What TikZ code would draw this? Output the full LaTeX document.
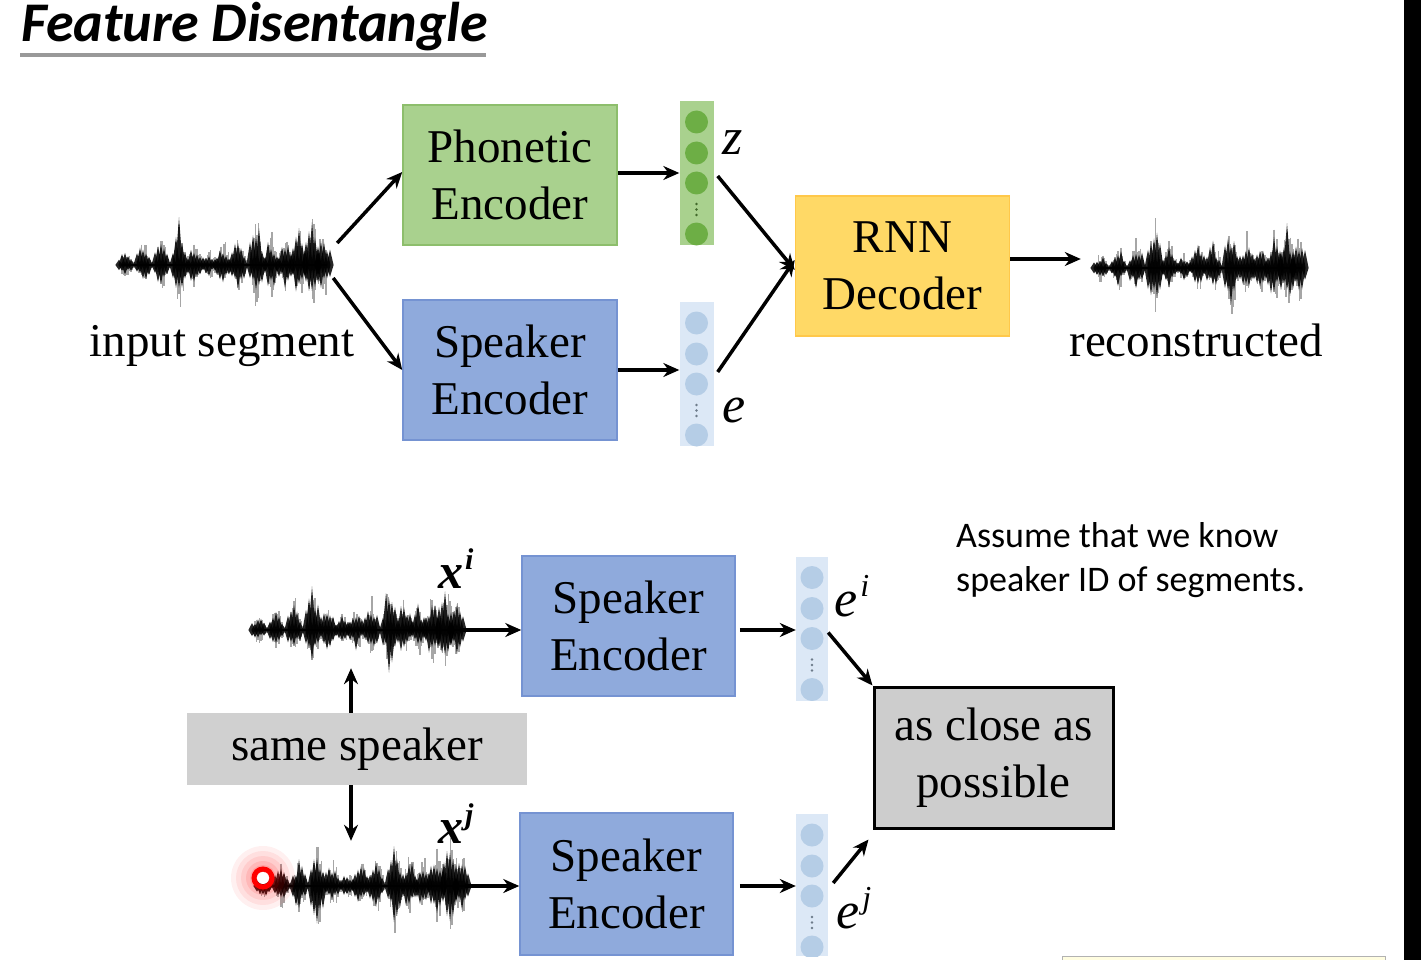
\documentclass[tikz,border=0pt]{standalone}
\usepackage{fontspec}
\setmainfont{Liberation Serif}
\newfontfamily\calfont{Carlito}
\usetikzlibrary{arrows.meta,calc}
\definecolor{phonfill}{HTML}{A9D18E}
\definecolor{phondraw}{HTML}{8DBE6C}
\definecolor{spkfill}{HTML}{8FAADC}
\definecolor{spkdraw}{HTML}{7593D2}
\definecolor{rnnfill}{HTML}{FFD966}
\definecolor{rnndraw}{HTML}{FFC84A}
\definecolor{gcolfill}{HTML}{A9D18E}
\definecolor{gcolcirc}{HTML}{6DAE45}
\definecolor{bcolfill}{HTML}{DCE8F6}
\definecolor{bcolcirc}{HTML}{B5CDE6}
\definecolor{samefill}{HTML}{D0D0D0}
\definecolor{closefill}{HTML}{CDCDCD}
\newcommand\wavef[3]{%
  \pgfmathsetseed{#3}%
  \foreach \k in {0,...,136} {%
    \pgfmathsetmacro\xx{#1+\k*1.5}%
    \pgfmathsetmacro\ee{env(\k*1.5)}%
    \pgfmathsetmacro\hu{2+\ee*(0.3+0.7*rnd)*54}%
    \pgfmathsetmacro\hd{2+\ee*(0.3+0.7*rnd)*48}%
    \draw[line width=1.5pt, black, opacity=0.35] (\xx,{#2-\hu}) -- (\xx,{#2+\hd});
  }%
  \foreach \c/\a in {4/0.3,22/0.5,40/0.6,58/1.0,73/0.55,88/0.3,102/0.5,117/0.6,135/1.0,150/0.65,164/0.55,178/0.8,191/0.95,203/0.7} {%
    \foreach \o in {-7,-4,-1,2,5} {%
      \pgfmathsetmacro\hu{\a*(22+26*rnd)*(1-abs(\o+1)/13)}%
      \pgfmathsetmacro\hd{\a*(19+24*rnd)*(1-abs(\o+1)/13)}%
      \fill[black, opacity=0.85] ({#1+\c+\o-3.6},#2) -- ({#1+\c+\o},{#2-\hu}) -- ({#1+\c+\o+3.6},#2)
        -- ({#1+\c+\o},{#2+\hd}) -- cycle;
    }%
  }%
  \draw[line width=2.2pt] (#1,#2) -- ({#1+205},#2);
}
\begin{document}
\begin{tikzpicture}[x=1pt,y=-1pt,
  declare function={
    bp(\t,\c)=max(0,1-abs(\t-\c)/8.5);
    env(\t)=min(1,0.3*bp(\t,4)+0.5*bp(\t,22)+0.6*bp(\t,40)+1.0*bp(\t,58)+0.55*bp(\t,73)
      +0.3*bp(\t,88)+0.5*bp(\t,102)+0.6*bp(\t,117)+1.0*bp(\t,135)+0.65*bp(\t,150)
      +0.55*bp(\t,164)+0.8*bp(\t,178)+0.95*bp(\t,191)+0.7*bp(\t,203));
  },
  box/.style={draw, line width=1.5pt, minimum width=214pt, minimum height=140pt,
    inner sep=0pt, align=center, font=\fontsize{47}{57}\selectfont},
  phonbox/.style={box, fill=phonfill, draw=phondraw},
  spkbox/.style={box, fill=spkfill, draw=spkdraw},
  rnnbox/.style={box, fill=rnnfill, draw=rnndraw},
  arr/.style={line width=3.5pt, -{Stealth[length=16pt,width=14pt]}},
  wavebox/.style={minimum width=205pt, minimum height=#1, inner sep=0pt},
  vcol/.style 2 args={fill=#1, minimum width=34pt, minimum height=144pt, inner sep=0pt,
    path picture={
      \foreach \dy in {21,52,82,133}
        \fill[#2] ([yshift=-\dy pt]path picture bounding box.north) circle (11.5pt);
      \foreach \dy in {103,108.5,114}
        \fill[#2!60!black] ([yshift=-\dy pt]path picture bounding box.north) circle (1.4pt);
    }},
  lab/.style={inner sep=0pt, font=\fontsize{47}{57}\selectfont},
  vlab/.style={inner sep=0pt, anchor=base west, font=\fontsize{52}{60}\selectfont\itshape},
  xlab/.style={inner sep=0pt, anchor=base west, font=\fontsize{50}{60}\selectfont\bfseries\itshape},
]
\useasboundingbox (0,0) rectangle (1421,960);
\fill[white] (0,0) rectangle (1421,960);

% title
\node[anchor=base west, inner sep=0pt, font=\calfont\bfseries\itshape\fontsize{56}{60}\selectfont] (title) at (21,42) {Feature Disentangle};
\draw[gray!80, line width=4pt] (20,55) -- (486,55);

% ---------- top ----------
\node[wavebox=100pt] (win) at (224.5,265) {};
\wavef{122}{265}{11}
\node[lab, anchor=base] (inlab) at (222,356) {input segment};

\node[phonbox] (phon) at (510,175) {Phonetic\\Encoder};
\node[spkbox] (spk1) at (510,370) {Speaker\\Encoder};

\node[vcol={gcolfill}{gcolcirc}] (zcol) at (696.5,173) {};
\node[vcol={bcolfill}{bcolcirc}] (ecol) at (696.5,374) {};
\node[vlab] (zl) at (722,155) {z};
\node[vlab] (el) at (722,422) {e};

\node[rnnbox] (rnn) at (902.5,266) {RNN\\Decoder};

\node[wavebox=100pt] (wout) at (1199.5,268) {};
\wavef{1097}{268}{23}
\node[lab, anchor=base] (outlab) at (1196,356) {reconstructed};

\draw[arr] ([shift={(10,-22)}]win.east) -- ([yshift=3]phon.west);
\draw[arr] ([shift={(6,13)}]win.east) -- (spk1.west);
\draw[arr] (phon.east |- zcol.west) -- (zcol.west);
\draw[arr] (spk1.east) -- (spk1.east -| ecol.west);
\draw[arr] ([shift={(4,3)}]zcol.east) -- ([yshift=-4]rnn.west);
\draw[arr] ([shift={(4,-2)}]ecol.east) -- ([yshift=6]rnn.west);
\draw[arr] ([yshift=7]rnn.east) -- ([xshift=-16,yshift=7]wout.west |- rnn.east);

% ---------- bottom ----------
\node[anchor=north west, align=left, inner sep=0pt, font=\calfont\fontsize{36}{44}\selectfont] (note) at (956,522) {Assume that we know\\speaker ID of segments.};

\node[wavebox=76pt] (wi) at (357.5,630) {};
\wavef{255}{630}{37}
\node[xlab] (xil) at (438,588) {x\kern2pt\raisebox{19pt}{\fontsize{30}{30}\selectfont i}};

\node[spkbox, minimum width=213pt] (spkA) at (628.5,626) {Speaker\\Encoder};
\node[vcol={bcolfill}{bcolcirc}, minimum width=32pt] (eicol) at (812,628.5) {};
\node[vlab] (eil) at (834,616) {e\kern3pt\raisebox{20pt}{\fontsize{32}{32}\selectfont i}};

\node[fill=samefill, minimum width=340pt, minimum height=72pt, inner sep=0pt, font=\fontsize{47}{57}\selectfont] (same) at (357,749) {same speaker};

\node[wavebox=90pt] (wj) at (362.5,886) {};
\wavef{260}{886}{53}
\node[xlab] (xjl) at (438,843) {x\kern2pt\raisebox{19pt}{\fontsize{30}{30}\selectfont j}};

\node[spkbox, minimum width=213pt, minimum height=142pt] (spkB) at (626.5,884) {Speaker\\Encoder};
\node[vcol={bcolfill}{bcolcirc}, minimum width=32pt, minimum height=142pt] (ejcol) at (812,885) {};
\node[vlab] (ejl) at (836,928) {e\kern3pt\raisebox{20pt}{\fontsize{32}{32}\selectfont j}};

\node[draw, fill=closefill, line width=3pt, minimum width=239pt, minimum height=141pt, inner sep=0pt, align=center, font=\fontsize{47}{57}\selectfont] (close) at (993.5,757.5) {as close as\\possible};

\draw[arr] (wi.east) -- (wi.east -| spkA.west);
\draw[arr] ([xshift=4]spkA.east |- wi.east) -- (spkA.east |- wi.east -| eicol.west);
\draw[arr] ([shift={(0,4)}]eicol.east) -- (close.north west);
\draw[arr] (wj.east) -- (wj.east -| spkB.west);
\draw[arr] ([xshift=6]spkB.east |- wj.east) -- (spkB.east |- wj.east -| ejcol.west);
\draw[arr] ([shift={(5,-2)}]ejcol.east) -- ([shift={(-4,10)}]close.south west);
\draw[arr] ([xshift=-6]same.north) -- ([xshift=-6]same.north |- wi.south);
\draw[arr] ([xshift=-6]same.south) -- ([xshift=-6]same.south |- wj.north);

% cursor highlight
\foreach \r/\o in {32/0.06,27/0.07,22/0.08,17/0.1,13/0.12}
  \fill[red, opacity=\o] (263,878) circle (\r pt);
\fill[white] (263,878) circle (6pt);
\draw[red, line width=5pt] (263,878) circle (9pt);

% partial box bottom right
\filldraw[fill=yellow!12, draw=gray!60, line width=1pt] (1062,956) rectangle (1385,962);

% right black band
\fill[black] (1404,0) rectangle (1421,960);
\end{tikzpicture}
\end{document}
